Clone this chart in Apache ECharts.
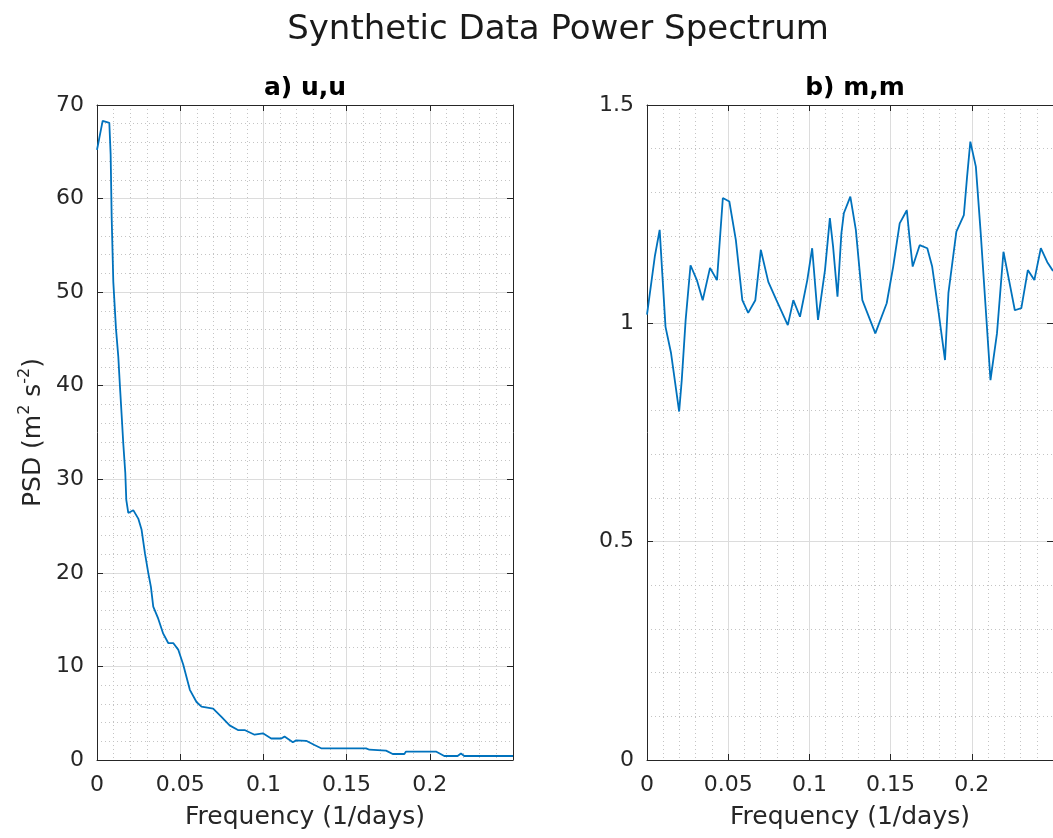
<!DOCTYPE html>
<html>
<head>
<meta charset="utf-8">
<script src="https://cdn.jsdelivr.net/npm/echarts@6/dist/echarts.min.js"></script>
<style>
html,body{margin:0;padding:0;background:#fff;}
#chart{width:1053px;height:838px;}
</style>
</head>
<body>
<div id="chart"></div>
<script>
// ---- Data ----
const mainTitle = 'Synthetic Data Power Spectrum';
const panelTitles = ['a) u,u', 'b) m,m'];
const xLabel = 'Frequency (1/days)';
const xTicks = [0, 0.05, 0.1, 0.15, 0.2, 0.25];

// panel a) u,u
const freqA = [0, 0.0012, 0.0034, 0.0054, 0.0074, 0.0082, 0.0088, 0.0098, 0.0114, 0.0128, 0.0138, 0.0148, 0.0158, 0.0170, 0.0176, 0.0188, 0.0218, 0.0248, 0.0268, 0.0288, 0.0308, 0.0324, 0.0338, 0.0368, 0.0398, 0.0428, 0.0458, 0.0488, 0.0518, 0.0558, 0.0598, 0.0628, 0.0698, 0.0748, 0.0797, 0.0847, 0.0887, 0.0947, 0.0997, 0.1047, 0.1107, 0.1127, 0.1177, 0.1197, 0.1257, 0.1307, 0.1347, 0.1617, 0.1637, 0.1737, 0.1777, 0.1847, 0.1857, 0.2037, 0.2087, 0.2167, 0.2187, 0.2207, 0.25];
const psdA = [65.2, 66.3, 68.3, 68.2, 68.1, 64.7, 58.1, 51.1, 46.1, 43.1, 39.9, 36.9, 33.8, 30.7, 27.8, 26.4, 26.7, 25.8, 24.6, 22.1, 20.0, 18.5, 16.4, 15.1, 13.5, 12.5, 12.5, 11.8, 10.2, 7.5, 6.2, 5.7, 5.5, 4.6, 3.7, 3.2, 3.2, 2.7, 2.85, 2.3, 2.3, 2.5, 1.9, 2.1, 2.05, 1.6, 1.25, 1.25, 1.1, 1.0, 0.64, 0.64, 0.9, 0.9, 0.43, 0.43, 0.7, 0.43, 0.43];
const yTicksA = [0, 10, 20, 30, 40, 50, 60, 70];

// panel b) m,m
const freqB = [0, 0.0048, 0.0078, 0.0094, 0.0114, 0.0148, 0.0198, 0.0214, 0.0238, 0.0268, 0.0307, 0.0343, 0.0388, 0.0431, 0.0467, 0.0507, 0.0547, 0.0587, 0.0623, 0.0667, 0.0701, 0.0747, 0.0797, 0.0867, 0.0901, 0.0942, 0.0987, 0.1017, 0.1053, 0.1096, 0.1126, 0.1146, 0.1173, 0.1197, 0.1212, 0.1252, 0.1286, 0.1326, 0.1406, 0.1476, 0.1516, 0.1556, 0.1600, 0.1616, 0.1636, 0.1679, 0.1726, 0.1756, 0.1796, 0.1835, 0.1856, 0.1905, 0.1951, 0.1971, 0.1991, 0.2025, 0.2055, 0.2085, 0.2115, 0.2155, 0.2195, 0.2225, 0.2265, 0.2305, 0.2345, 0.2385, 0.2425, 0.2465, 0.25];
const psdB = [1.02, 1.153, 1.214, 1.115, 0.992, 0.932, 0.798, 0.87, 1.008, 1.133, 1.099, 1.053, 1.127, 1.099, 1.287, 1.279, 1.191, 1.053, 1.024, 1.053, 1.168, 1.095, 1.053, 0.996, 1.053, 1.015, 1.099, 1.172, 1.008, 1.122, 1.241, 1.175, 1.061, 1.206, 1.252, 1.290, 1.214, 1.053, 0.977, 1.046, 1.130, 1.229, 1.259, 1.198, 1.130, 1.179, 1.172, 1.130, 1.024, 0.916, 1.069, 1.210, 1.248, 1.336, 1.416, 1.359, 1.206, 1.038, 0.870, 0.977, 1.164, 1.107, 1.030, 1.035, 1.122, 1.099, 1.172, 1.14, 1.12];
const yTicksB = [0, 0.5, 1, 1.5];

// ---- Chart ----
const FONT = 'DejaVu Sans';
const TXT = '#262626';
const LINE = '#0072BD';
const chart = echarts.init(document.getElementById('chart'), null, {renderer: 'canvas'});

const grids = [
  {left: 97, top: 105, width: 416, height: 655},
  {left: 647, top: 105, width: 417, height: 655}
];

function step(arr){ return arr[1] - arr[0]; }

function bottomX(g){
  return {
    type: 'value', gridIndex: g, position: 'bottom',
    min: xTicks[0], max: xTicks[xTicks.length - 1], interval: step(xTicks),
    name: xLabel, nameLocation: 'middle', nameGap: 45,
    nameTextStyle: {fontFamily: FONT, fontSize: 25, color: TXT},
    axisLine: {show: true, onZero: false, lineStyle: {color: TXT, width: 1}},
    axisTick: {show: true, inside: true, length: 6, lineStyle: {color: TXT}},
    axisLabel: {show: true, showMaxLabel: false, margin: 14, fontFamily: FONT, fontSize: 22, color: TXT},
    splitLine: {show: true, lineStyle: {color: '#dcdcdc', width: 1}},
    minorTick: {show: false, splitNumber: 5},
    minorSplitLine: {show: true, lineStyle: {color: '#c4c4c4', width: 1, type: [1, 3]}}
  };
}
function topX(g){
  return {
    type: 'value', gridIndex: g, position: 'top',
    min: xTicks[0], max: xTicks[xTicks.length - 1], interval: step(xTicks),
    axisLine: {show: true, onZero: false, lineStyle: {color: TXT, width: 1}},
    axisTick: {show: true, inside: true, length: 6, lineStyle: {color: TXT}},
    axisLabel: {show: false}, splitLine: {show: false}
  };
}
function leftY(g, ticks, name){
  const o = {
    type: 'value', gridIndex: g, position: 'left',
    min: ticks[0], max: ticks[ticks.length - 1], interval: step(ticks),
    axisLine: {show: true, onZero: false, lineStyle: {color: TXT, width: 1}},
    axisTick: {show: true, inside: true, length: 6, lineStyle: {color: TXT}},
    axisLabel: {show: true, margin: 13, fontFamily: FONT, fontSize: 22, color: TXT},
    splitLine: {show: true, lineStyle: {color: '#dcdcdc', width: 1}},
    minorTick: {show: false, splitNumber: 5},
    minorSplitLine: {show: true, lineStyle: {color: '#c4c4c4', width: 1, type: [1, 3]}}
  };
  if (name) {
    o.name = name;
    o.nameLocation = 'middle';
    o.nameGap = 48;
    o.nameRotate = 90;
    o.nameTextStyle = {
      fontFamily: FONT, fontSize: 25, color: TXT, lineHeight: 32,
      rich: {
        sup: {fontFamily: FONT, fontSize: 16, color: TXT, verticalAlign: 'top', lineHeight: 16}
      }
    };
  }
  return o;
}
function rightY(g, ticks){
  return {
    type: 'value', gridIndex: g, position: 'right',
    min: ticks[0], max: ticks[ticks.length - 1], interval: step(ticks),
    axisLine: {show: true, onZero: false, lineStyle: {color: TXT, width: 1}},
    axisTick: {show: true, inside: true, length: 6, lineStyle: {color: TXT}},
    axisLabel: {show: false}, splitLine: {show: false}
  };
}

function zip(a, b){ return a.map((v, i) => [v, b[i]]); }

const option = {
  backgroundColor: '#ffffff',
  animation: false,
  grid: grids,
  xAxis: [bottomX(0), bottomX(1), topX(0), topX(1)],
  yAxis: [leftY(0, yTicksA, 'PSD (m{sup|2} s{sup|-2})'), leftY(1, yTicksB, null), rightY(0, yTicksA), rightY(1, yTicksB)],
  series: [
    {type: 'line', xAxisIndex: 0, yAxisIndex: 0, data: zip(freqA, psdA), showSymbol: false, symbol: 'none',
     lineStyle: {color: LINE, width: 1.8}, clip: true},
    {type: 'line', xAxisIndex: 1, yAxisIndex: 1, data: zip(freqB, psdB), showSymbol: false, symbol: 'none',
     lineStyle: {color: LINE, width: 1.8}, clip: true}
  ],
  graphic: [
    {type: 'text', x: 558, y: 30, style: {text: mainTitle, fontFamily: FONT, fontSize: 34, fill: '#1a1a1a', textAlign: 'center', textVerticalAlign: 'middle'}},
    {type: 'text', x: 305, y: 88, style: {text: panelTitles[0], fontFamily: FONT, fontSize: 25, fontWeight: 'bold', fill: '#000', textAlign: 'center', textVerticalAlign: 'middle'}},
    {type: 'text', x: 855, y: 88, style: {text: panelTitles[1], fontFamily: FONT, fontSize: 25, fontWeight: 'bold', fill: '#000', textAlign: 'center', textVerticalAlign: 'middle'}}
  ]
};
chart.setOption(option);
</script>
</body>
</html>
